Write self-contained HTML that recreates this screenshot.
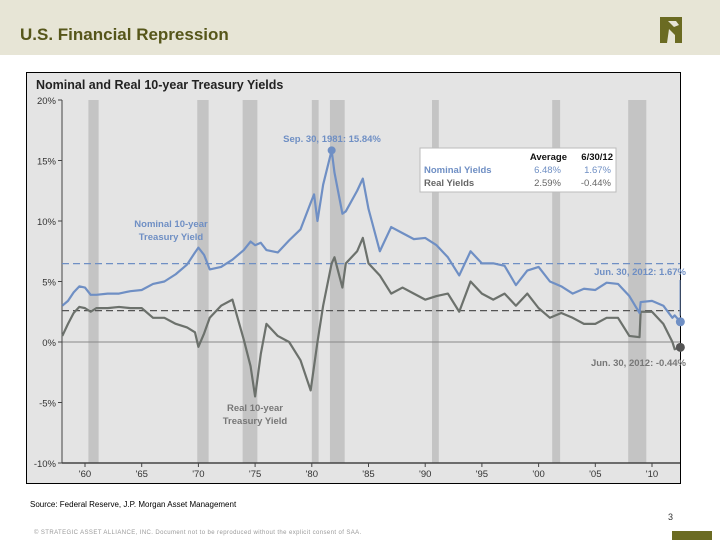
<!DOCTYPE html>
<html><head><meta charset="utf-8"><style>
body{margin:0;width:720px;height:540px;background:#fff;font-family:"Liberation Sans",sans-serif;position:relative;overflow:hidden}
.hdr{position:absolute;left:0;top:0;width:720px;height:55px;background:#e7e5d6}
.ttl{position:absolute;left:20px;top:25px;font-size:17px;font-weight:bold;color:#56561a}
</style></head><body>
<div class="hdr"></div>
<div class="ttl">U.S. Financial Repression</div>
<svg style="position:absolute;left:658px;top:15px" width="32" height="30"><path d="M2 2h22v26h-7v-8l-6-6-2 14H2z" fill="#6b6b22"/><path d="M10 6l8 0 3 4-5 2z" fill="#e7e5d6"/></svg>
<svg id="c" width="720" height="540" style="position:absolute;left:0;top:0"></svg>
<div style="position:absolute;left:30px;top:500px;font-size:8px;color:#000">Source: Federal Reserve, J.P. Morgan Asset Management</div>
<div style="position:absolute;left:668px;top:512px;font-size:9px;color:#333">3</div>
<div style="position:absolute;left:34px;top:530px;font-size:6px;color:#999;letter-spacing:0.4px">© STRATEGIC ASSET ALLIANCE, INC. Document not to be reproduced without the explicit consent of SAA.</div>
<div style="position:absolute;left:672px;top:531px;width:40px;height:9px;background:#6b6b22"></div>
<script>
const years=[1958,1958.5,1959,1959.5,1960,1960.5,1961,1962,1963,1964,1965,1966,1967,1968,1969,1969.7,1970,1970.5,1971,1972,1973,1974,1974.6,1975,1975.5,1976,1977,1978,1979,1979.9,1980.2,1980.5,1981,1981.75,1982,1982.7,1983,1984,1984.5,1985,1986,1987,1988,1989,1990,1991,1992,1993,1994,1995,1996,1997,1998,1999,2000,2001,2002,2003,2004,2005,2006,2007,2008,2008.9,2009,2010,2011,2011.8,2012,2012.5];
const nominal=[3.0,3.4,4.1,4.6,4.5,3.9,3.9,4.0,4.0,4.2,4.3,4.8,5.0,5.6,6.4,7.4,7.8,7.2,6.0,6.2,6.8,7.6,8.3,8.0,8.2,7.6,7.4,8.4,9.3,11.5,12.2,10.0,13.0,15.84,14.0,10.6,10.8,12.5,13.5,11.0,7.5,9.5,9.0,8.5,8.6,8.0,7.0,5.5,7.5,6.5,6.5,6.3,4.7,5.9,6.2,5.0,4.6,4.0,4.4,4.3,4.9,4.8,3.8,2.4,3.3,3.4,3.0,2.0,2.2,1.67];
const real=[0.5,1.5,2.4,2.9,2.8,2.5,2.8,2.8,2.9,2.8,2.8,2.0,2.0,1.5,1.2,0.8,-0.4,0.7,2.0,3.0,3.5,0.2,-2.0,-4.5,-1.0,1.5,0.5,0.0,-1.5,-4.0,-2.0,0.0,3.0,6.5,7.0,4.5,6.5,7.5,8.6,6.5,5.5,4.0,4.5,4.0,3.5,3.8,4.0,2.5,5.0,4.0,3.5,4.0,3.0,4.0,2.8,2.0,2.4,2.0,1.5,1.5,2.0,2.0,0.5,0.4,2.5,2.5,1.5,0.0,-0.6,-0.44];
const recessions=[[1960.3,1961.2],[1969.9,1970.9],[1973.9,1975.2],[1980.0,1980.6],[1981.6,1982.9],[1990.6,1991.2],[2001.2,2001.9],[2007.9,2009.5]];
const yTicks=[20,15,10,5,0,-5,-10];
const xTicks=[1960,1965,1970,1975,1980,1985,1990,1995,2000,2005,2010];
const avgNominal=6.48, avgReal=2.59;
const NS='http://www.w3.org/2000/svg', svg=document.getElementById('c');
const X=y=>85+(y-1960)*11.34, Y=v=>342-v*12.1;
function el(t,a,p){const e=document.createElementNS(NS,t);for(const k in a)e.setAttribute(k,a[k]);(p||svg).appendChild(e);return e;}
function tx(x,y,s,a){const e=el('text',Object.assign({x:x,y:y,'font-family':'Liberation Sans, sans-serif'},a));e.textContent=s;return e;}
const box=el('rect',{x:26.5,y:72.5,width:654,height:411,fill:'#e4e4e4',stroke:'#000','stroke-width':1});


const t=tx(36,89,'Nominal and Real 10-year Treasury Yields',{'font-size':12.5,'font-weight':'bold',fill:'#222'});


recessions.forEach(r=>{const e=el('rect',{x:X(r[0]),y:100,width:X(r[1])-X(r[0]),height:363,fill:'#c4c4c4'});

});
el('line',{x1:62,y1:Y(0),x2:680,y2:Y(0),stroke:'#888','stroke-width':1});
el('line',{x1:62,y1:100,x2:62,y2:463,stroke:'#444'});
el('line',{x1:62,y1:463,x2:680,y2:463,stroke:'#444','stroke-width':1.5});
yTicks.forEach(v=>{el('line',{x1:58,y1:Y(v),x2:62,y2:Y(v),stroke:'#444'});
const e=tx(56,Y(v)+4,v+'%',{'font-size':9.5,fill:'#333','text-anchor':'end'});

});
xTicks.forEach(v=>{el('line',{x1:X(v),y1:463,x2:X(v),y2:467,stroke:'#444'});
const e=tx(X(v),477,"'"+String(v).slice(2),{'font-size':9.5,fill:'#333','text-anchor':'middle'});

});
[[avgNominal,'#6f8fc4'],[avgReal,'#555']].forEach(a=>{const e=el('line',{x1:62,y1:Y(a[0]),x2:680,y2:Y(a[0]),stroke:a[1],'stroke-width':1.3,'stroke-dasharray':'7,4'});

});
function series(d,c,n){const p=el('polyline',{points:years.map((y,i)=>X(y)+','+Y(d[i])).join(' '),fill:'none',stroke:c,'stroke-width':2.2,'stroke-linejoin':'round'});

}
series(real,'#6c716c','real-yield-line');
series(nominal,'#6f8fc4','nominal-yield-line');
const pk=nominal.indexOf(Math.max(...nominal));
el('circle',{cx:X(years[pk]),cy:Y(nominal[pk]),r:4,fill:'#6f8fc4'});
const L=years.length-1;
el('line',{x1:680,y1:280,x2:680,y2:Y(nominal[L])-6,stroke:'#6f8fc4'});
el('circle',{cx:X(years[L]),cy:Y(nominal[L]),r:4.5,fill:'#6f8fc4'});
el('circle',{cx:X(years[L]),cy:Y(real[L]),r:4.5,fill:'#555'});
const B={'font-size':9.5,'font-weight':'bold',fill:'#6f8fc4'};
tx(332,142,'Sep. 30, 1981: 15.84%',Object.assign({'text-anchor':'middle'},B));
tx(171,227,'Nominal 10-year',Object.assign({'text-anchor':'middle'},B));
tx(171,240,'Treasury Yield',Object.assign({'text-anchor':'middle'},B));
const G={'font-size':9.5,'font-weight':'bold',fill:'#777','text-anchor':'middle'};
tx(255,411,'Real 10-year',G);tx(255,424,'Treasury Yield',G);
tx(686,275,'Jun. 30, 2012: 1.67%',Object.assign({'text-anchor':'end'},B));
tx(686,366,'Jun. 30, 2012: -0.44%',Object.assign({'text-anchor':'end','font-size':9.5,'font-weight':'bold',fill:'#777'}));
const lg=el('rect',{x:420,y:148,width:196,height:44,fill:'#fff',stroke:'#bbb'});


const K={'font-size':9.5,'font-weight':'bold'};
tx(567,160,'Average',Object.assign({'text-anchor':'end',fill:'#111'},K));
tx(613,160,'6/30/12',Object.assign({'text-anchor':'end',fill:'#111'},K));
tx(424,173,'Nominal Yields',Object.assign({fill:'#6f8fc4'},K));
tx(561,173,avgNominal.toFixed(2)+'%',{'font-size':9.5,fill:'#6f8fc4','text-anchor':'end'});
tx(611,173,nominal[L].toFixed(2)+'%',{'font-size':9.5,fill:'#6f8fc4','text-anchor':'end'});
tx(424,186,'Real Yields',Object.assign({fill:'#666'},K));
tx(561,186,avgReal.toFixed(2)+'%',{'font-size':9.5,fill:'#666','text-anchor':'end'});
tx(611,186,real[L].toFixed(2)+'%',{'font-size':9.5,fill:'#666','text-anchor':'end'});
</script>
</body></html>
